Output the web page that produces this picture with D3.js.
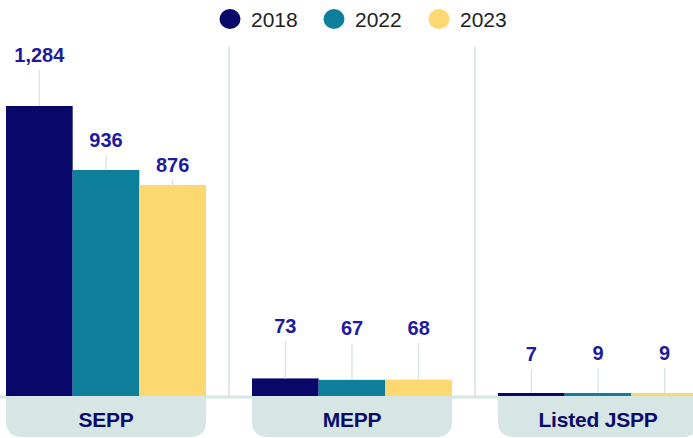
<!DOCTYPE html>
<html><head><meta charset="utf-8">
<script src="https://cdn.jsdelivr.net/npm/d3@7"></script>
<style>html,body{margin:0;padding:0;background:#fff;overflow:hidden}svg{display:block;font-family:"Liberation Sans",Arial,Helvetica,sans-serif}</style>
</head><body><svg id="c" width="693" height="438"></svg>
<script>
const categories = ["SEPP", "MEPP", "Listed JSPP"];
const years = ["2018", "2022", "2023"];
const values2018 = [1284, 73, 7];
const values2022 = [936, 67, 9];
const values2023 = [876, 68, 9];
const colors = ["#08076a", "#0e7f9b", "#fdd76f"];

const series = [values2018, values2022, values2023];
const W = 693, H = 438, base = 396;
const svg = d3.select("#c");

const x = d3.scaleBand().domain(categories).range([6, 698]).paddingInner(46 / 246).paddingOuter(0);
const xi = d3.scaleBand().domain(years).range([0, x.bandwidth()]);
// bar height scale (piecewise, as in the original design)
const y = d3.scaleLinear().domain([0, 876, 936, 1284]).range([base, base - 211, base - 226, base - 290]);
// label placement scale
const yl = d3.scaleLinear().domain([0, 10, 75, 876, 936, 1284]).range([base - 30, base - 37, base - 64, base - 224, base - 249, base - 334]);

const rows = [];
categories.forEach((c, ci) => years.forEach((yr, yi) => rows.push({c, yr, yi, v: series[yi][ci]})));

// baseline line
svg.append("line").attr("x1", 0).attr("x2", W).attr("y1", base + 1).attr("y2", base + 1)
  .attr("stroke", "#d6e6e5").attr("stroke-width", 3);

// separators
for (let i = 0; i < categories.length - 1; i++) {
  const sx = (x(categories[i]) + x.bandwidth() + x(categories[i + 1])) / 2;
  svg.append("line").attr("x1", sx).attr("x2", sx).attr("y1", 47).attr("y2", base)
    .attr("stroke", "#dce8e8").attr("stroke-width", 2);
}

// category boxes
const r = 16;
categories.forEach(c => {
  const x0 = x(c), x1 = x0 + x.bandwidth(), y0 = base, y1 = H - 1;
  const p = `M${x0},${y0}H${x1}V${y1 - r}Q${x1},${y1} ${x1 - r},${y1}H${x0 + r}Q${x0},${y1} ${x0},${y1 - r}Z`;
  svg.append("path").attr("d", p).attr("fill", "#d5e6e4");
  svg.append("text").attr("x", x0 + x.bandwidth() / 2).attr("y", 427).attr("text-anchor", "middle")
    .attr("font-size", 21).attr("letter-spacing", "-0.2px").attr("font-weight", 700).attr("fill", "#0b0a6b").text(c);
});

// bars
svg.selectAll("rect.bar").data(rows).join("rect").attr("class", "bar")
  .attr("x", d => x(d.c) + xi(d.yr)).attr("width", xi.bandwidth())
  .attr("y", d => Math.min(y(d.v), base - 3)).attr("height", d => base - Math.min(y(d.v), base - 3))
  .attr("fill", d => colors[d.yi]);

// leader lines + value labels
rows.forEach(d => {
  const cx = x(d.c) + xi(d.yr) + xi.bandwidth() / 2;
  const top = yl(d.v) + 8, bot = Math.min(y(d.v), base - 3);
  if (bot > top) svg.append("line").attr("x1", cx).attr("x2", cx).attr("y1", top).attr("y2", bot)
    .attr("stroke", "#d3e1e1").attr("stroke-width", 1.2);
  svg.append("text").attr("x", cx).attr("y", yl(d.v)).attr("text-anchor", "middle")
    .attr("font-size", 20).attr("font-weight", 700).attr("fill", "#1c1b9e")
    .text(d3.format(",")(d.v));
});

// legend
const legX = [230, 334, 439];
years.forEach((yr, i) => {
  svg.append("ellipse").attr("cx", legX[i]).attr("cy", 19).attr("rx", 10.5).attr("ry", 10).attr("fill", colors[i]);
  svg.append("text").attr("x", legX[i] + 21).attr("y", 27).attr("font-size", 21).attr("fill", "#222")
    .text(yr);
});
</script></body></html>
